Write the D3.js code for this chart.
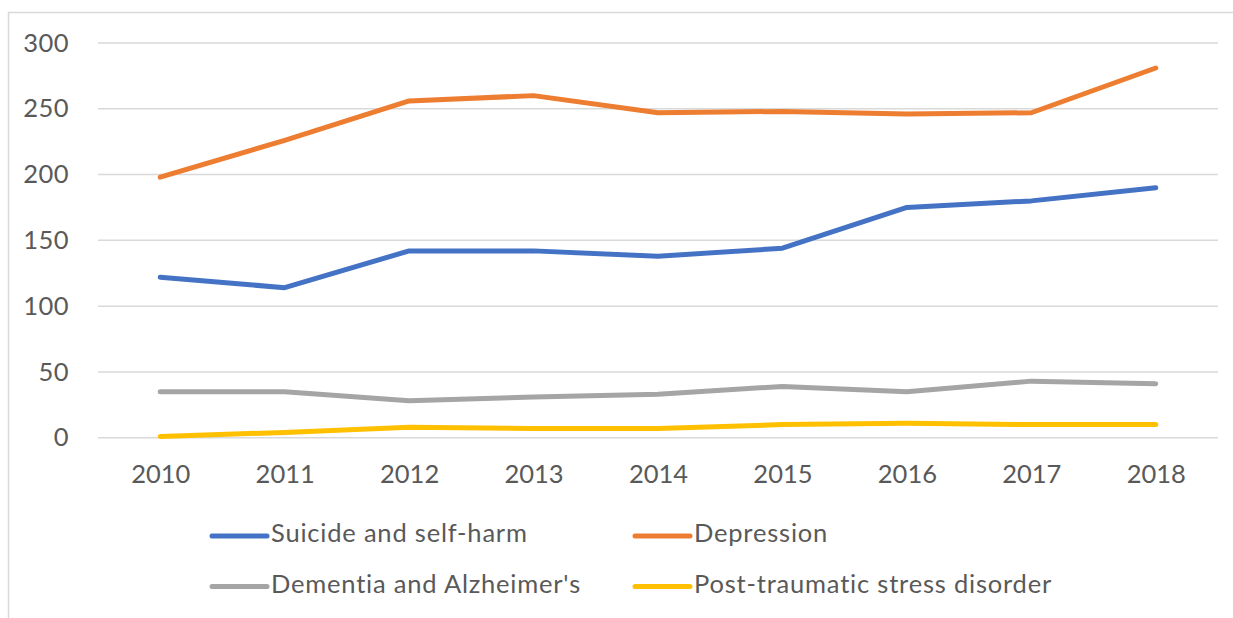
<!DOCTYPE html>
<html>
<head>
<meta charset="utf-8">
<script src="https://cdn.jsdelivr.net/npm/d3@7"></script>
<style>
  html, body { margin: 0; padding: 0; background: #fff; }
  svg { display: block; }
  text { font-family: Lato, "Open Sans", sans-serif; fill: #595959; }
</style>
</head>
<body>
<svg id="chart" width="1233" height="618"></svg>
<script>
// Years on the category axis
const years = ["2010", "2011", "2012", "2013", "2014", "2015", "2016", "2017", "2018"];

// One array per series
const suicide    = [122, 114, 142, 142, 138, 144, 175, 180, 190];
const depression = [198, 226, 256, 260, 247, 248, 246, 247, 281];
const dementia   = [35, 35, 28, 31, 33, 39, 35, 43, 41];
const ptsd       = [1, 4, 8, 7, 7, 10, 11, 10, 10];

const seriesNames = ["Suicide and self-harm", "Depression", "Dementia and Alzheimer's", "Post-traumatic stress disorder"];
const seriesValues = [suicide, depression, dementia, ptsd];
const seriesColors = ["#4472C4", "#ED7D31", "#A5A5A5", "#FFC000"];

const yTicks = [0, 50, 100, 150, 200, 250, 300];

const svg = d3.select("#chart");

// Outer chart frame
svg.append("rect")
  .attr("x", 8.5).attr("y", 12.5)
  .attr("width", 1300).attr("height", 700)
  .attr("fill", "none")
  .attr("stroke", "#D9D9D9")
  .attr("stroke-width", 1.5);

const plot = { left: 98, right: 1218, top: 43, bottom: 437.7 };

const x = d3.scalePoint()
  .domain(years)
  .range([plot.left, plot.right])
  .padding(0.5);

const y = d3.scaleLinear()
  .domain([0, 300])
  .range([plot.bottom, plot.top]);

// Horizontal gridlines
svg.append("g")
  .selectAll("line")
  .data(yTicks)
  .join("line")
  .attr("x1", plot.left).attr("x2", plot.right)
  .attr("y1", d => y(d)).attr("y2", d => y(d))
  .attr("stroke", "#D9D9D9")
  .attr("stroke-width", 1.5);

// Y axis labels
const yAxis = d3.axisLeft(y).tickValues(yTicks).tickSize(0).tickPadding(0);
const gy = svg.append("g")
  .attr("transform", "translate(69,0)")
  .call(yAxis);
gy.select(".domain").remove();
gy.selectAll("text")
  .attr("font-size", 25.5)
  .attr("font-family", "Lato, sans-serif")
  .attr("fill", "#595959")
  .attr("letter-spacing", 0.5)
  .attr("dy", "0.32em");

// X axis labels
const xAxis = d3.axisBottom(x).tickSize(0).tickPadding(0);
const gx = svg.append("g")
  .attr("transform", "translate(0,465)")
  .call(xAxis);
gx.select(".domain").remove();
gx.selectAll("text")
  .attr("font-size", 25.5)
  .attr("font-family", "Lato, sans-serif")
  .attr("fill", "#595959")
  .attr("dy", "0.72em");

// Series lines
const line = d3.line()
  .x((d, i) => x(years[i]))
  .y(d => y(d));

svg.append("g")
  .selectAll("path")
  .data(seriesValues)
  .join("path")
  .attr("d", d => line(d))
  .attr("fill", "none")
  .attr("stroke", (d, i) => seriesColors[i])
  .attr("stroke-width", 5)
  .attr("stroke-linecap", "round")
  .attr("stroke-linejoin", "round");

// Legend in two rows
const legendPos = [
  { lx: 212, ly: 536 },
  { lx: 635, ly: 536 },
  { lx: 212, ly: 586.5 },
  { lx: 635, ly: 586.5 }
];

const legend = svg.append("g")
  .selectAll("g")
  .data(seriesNames)
  .join("g")
  .attr("transform", (d, i) => `translate(${legendPos[i].lx},${legendPos[i].ly})`);

legend.append("line")
  .attr("x1", 0).attr("x2", 55)
  .attr("y1", 0).attr("y2", 0)
  .attr("stroke", (d, i) => seriesColors[i])
  .attr("stroke-width", 5)
  .attr("stroke-linecap", "round");

legend.append("text")
  .attr("x", 59)
  .attr("y", 6)
  .attr("font-size", 25.5)
  .attr("letter-spacing", 0.8)
  .text(d => d);
</script>
</body>
</html>
